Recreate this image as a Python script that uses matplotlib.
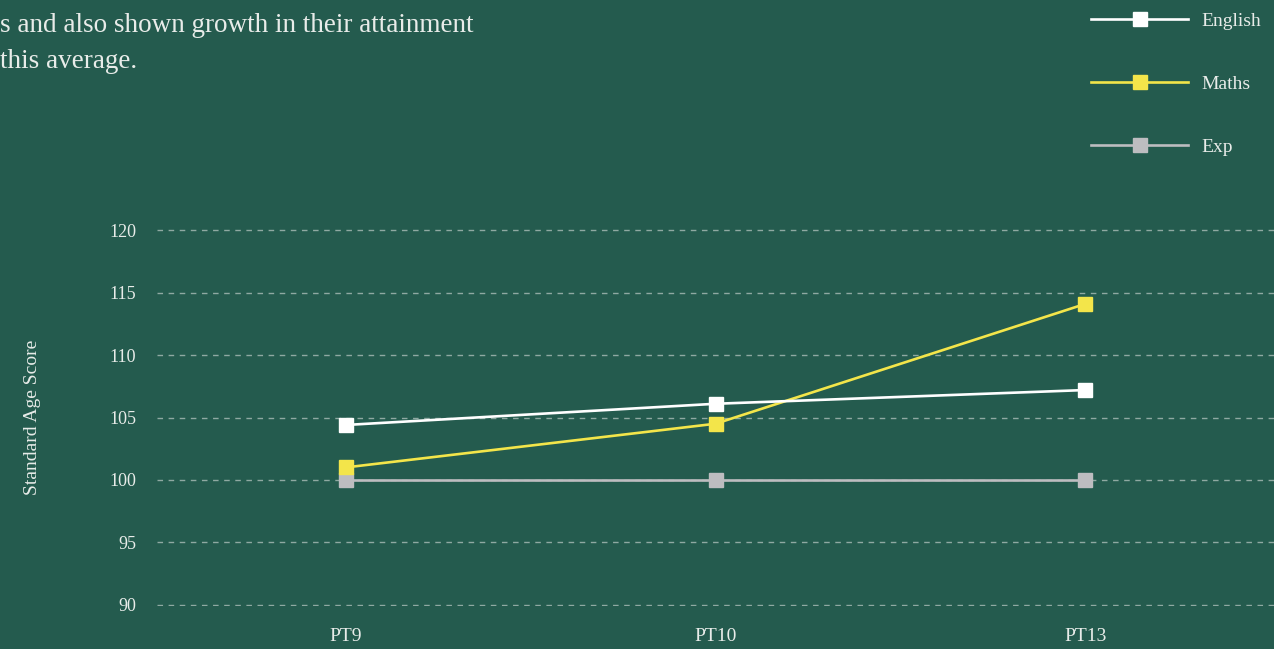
import matplotlib.pyplot as plt

# data
periods = ["PT9", "PT10", "PT13"]
english = [104.4, 106.1, 107.2]
maths = [101.0, 104.5, 114.1]
expected = [100, 100, 100]
y_ticks = [90, 95, 100, 105, 110, 115, 120]

BG = "#245b4e"
TXT = "#e8ece9"
plt.rcParams['font.family'] = ['Liberation Serif', 'DejaVu Serif']

fig = plt.figure(figsize=(12.74, 6.49), dpi=100, facecolor=BG)
W, H = 1274, 649
ax = fig.add_axes([157 / W, 1 - 606 / H, (1274 - 157) / W, (606 - 229) / H])
ax.set_facecolor(BG)

x = range(len(periods))
ax.plot(x, english, color="white", lw=1.9, marker="s", ms=10, label="English", zorder=4)
ax.plot(x, maths, color="#f3e54a", lw=1.9, marker="s", ms=10, label="Maths", zorder=3)
ax.plot(x, expected, color="#bdbdc0", lw=1.9, marker="s", ms=10, label="Exp", zorder=2)

ax.set_xlim(-0.51, 2.51)
ax.set_ylim(89.9, 120.1)
ax.set_yticks(y_ticks)
ax.set_xticks(list(x))
ax.set_xticklabels(periods)
ax.yaxis.grid(True, color="#8fa9a2", ls=(0, (4, 4)), lw=1)
ax.set_axisbelow(True)
for s in ax.spines.values():
    s.set_visible(False)
ax.tick_params(axis="y", length=0, colors=TXT, labelsize=13, pad=15)
ax.tick_params(axis="x", length=0, colors=TXT, labelsize=14, pad=16)
ax.set_ylabel("Standard Age Score", color=TXT, fontsize=14)
ax.yaxis.set_label_coords(-(157 - 33) / (1274 - 157), 0.5)
ax.yaxis.label.set_va("center")

leg = fig.legend(loc="upper left", bbox_to_anchor=(1091 / W, 1 - 12 / H),
                 frameon=False, handlelength=5.0, handletextpad=0.7,
                 labelspacing=2.35, fontsize=14, borderpad=0, borderaxespad=0)
for t in leg.get_texts():
    t.set_color(TXT)

fig.text(0, 1 - 25 / H, "s and also shown growth in their attainment",
         color=TXT, fontsize=19.5, va="center", ha="left")
fig.text(0, 1 - 62 / H, "this average.",
         color=TXT, fontsize=19.5, va="center", ha="left")

fig.savefig("out.png", dpi=100, facecolor=BG)
